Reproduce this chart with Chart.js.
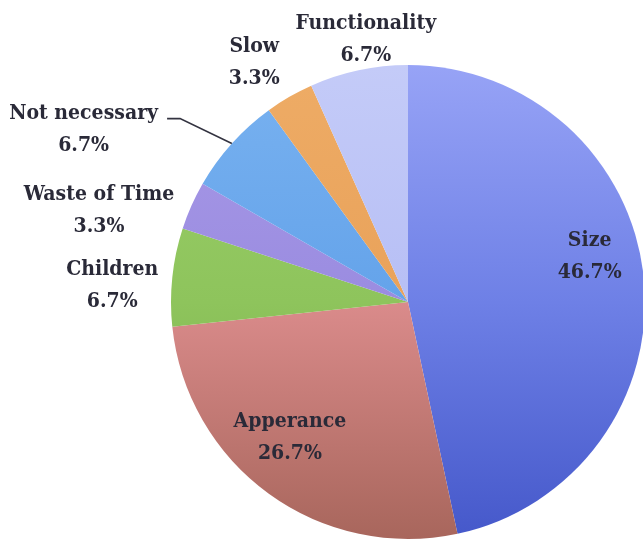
<!DOCTYPE html>
<html>
<head>
<meta charset="utf-8">
<script src="https://cdn.jsdelivr.net/npm/chart.js@4"></script>
<style>
  html, body { margin: 0; padding: 0; background: #fff; overflow: hidden; }
  #wrap { width: 643px; height: 547px; position: relative; }
</style>
</head>
<body>
<div id="wrap"><canvas id="c" width="643" height="547"></canvas></div>
<script>
// ---- data ----
const categories = ["Size", "Apperance", "Children", "Waste of Time", "Not necessary", "Slow", "Functionality"];
const percentages = [46.7, 26.7, 6.7, 3.3, 6.7, 3.3, 6.7];

// ---- style ----
const topColors    = ["#97a3f6", "#e49c9a", "#9bcf6a", "#a99ae8", "#79b2f0", "#eeac66", "#c4cbf8"];
const midColors    = ["#6e80e6", "#da8b8b", "#8ec45c", "#9a8ce0", "#64a3ea", "#e9a25a", "#b7bff5"];
const bottomColors = ["#4558ca", "#a8665c", "#76a84a", "#7f72c8", "#4f88d0", "#c8843e", "#9ba4e0"];
// label placement: [radius factor, angle nudge in degrees], relative to slice mid-angle
const labelPlacement = [[0.79, -8], [0.76, 5], [1.25, -2.8], [1.36, -7.5], [1.55, -14], [1.20, -2.7], [1.12, 2.9]];
const leaderFor = [false, false, false, false, true, false, false];

const FONT = "bold 21px 'DejaVu Serif'";
const X_SCALE = 0.9;
const TEXT_COLOR = "#2a2a38";

function sliceFill(ctx) {
  const chart = ctx.chart;
  const area = chart.chartArea;
  const i = ctx.dataIndex;
  if (!area) return midColors[i];
  const cy = (area.top + area.bottom) / 2;
  const r = 237;
  const g = chart.ctx.createLinearGradient(0, cy - r, 0, cy + r);
  g.addColorStop(0, topColors[i]);
  g.addColorStop(0.5, midColors[i]);
  g.addColorStop(1, bottomColors[i]);
  return g;
}

function drawText(c, txt, x, y) {
  c.save();
  c.translate(x, y);
  c.scale(X_SCALE, 1);
  c.fillText(txt, 0, 0);
  c.restore();
}

const labelPlugin = {
  id: 'sliceLabels',
  afterDatasetsDraw(chart) {
    const meta = chart.getDatasetMeta(0);
    const c = chart.ctx;
    c.save();
    c.font = FONT;
    c.fillStyle = TEXT_COLOR;
    c.textAlign = 'center';
    c.textBaseline = 'middle';
    meta.data.forEach((arc, i) => {
      const p = arc.getProps(['x', 'y', 'startAngle', 'endAngle', 'outerRadius'], true);
      const mid = (p.startAngle + p.endAngle) / 2;
      const [f, nudge] = labelPlacement[i];
      const a = mid + nudge * Math.PI / 180;
      const lx = p.x + Math.cos(a) * p.outerRadius * f;
      const ly = p.y + Math.sin(a) * p.outerRadius * f;
      drawText(c, categories[i], lx, ly - 16);
      drawText(c, percentages[i].toFixed(1) + '%', lx, ly + 16);
      if (leaderFor[i]) {
        const w = c.measureText(categories[i]).width * X_SCALE;
        const sx = lx + w / 2 + 9, sy = ly - 11;
        const ex = p.x + Math.cos(mid) * p.outerRadius;
        const ey = p.y + Math.sin(mid) * p.outerRadius;
        c.beginPath();
        c.strokeStyle = '#333340';
        c.lineWidth = 1.6;
        c.moveTo(sx, sy);
        c.lineTo(sx + 13, sy);
        c.lineTo(ex, ey);
        c.stroke();
      }
    });
    c.restore();
  }
};

new Chart(document.getElementById('c'), {
  type: 'pie',
  data: {
    labels: categories,
    datasets: [{
      data: percentages,
      backgroundColor: sliceFill,
      borderWidth: 0,
      hoverOffset: 0
    }]
  },
  options: {
    responsive: false,
    animation: false,
    radius: 237,
    layout: { padding: { left: 173, right: 0, top: 57, bottom: 0 } },
    plugins: { legend: { display: false }, tooltip: { enabled: false } }
  },
  plugins: [labelPlugin]
});
</script>
</body>
</html>
